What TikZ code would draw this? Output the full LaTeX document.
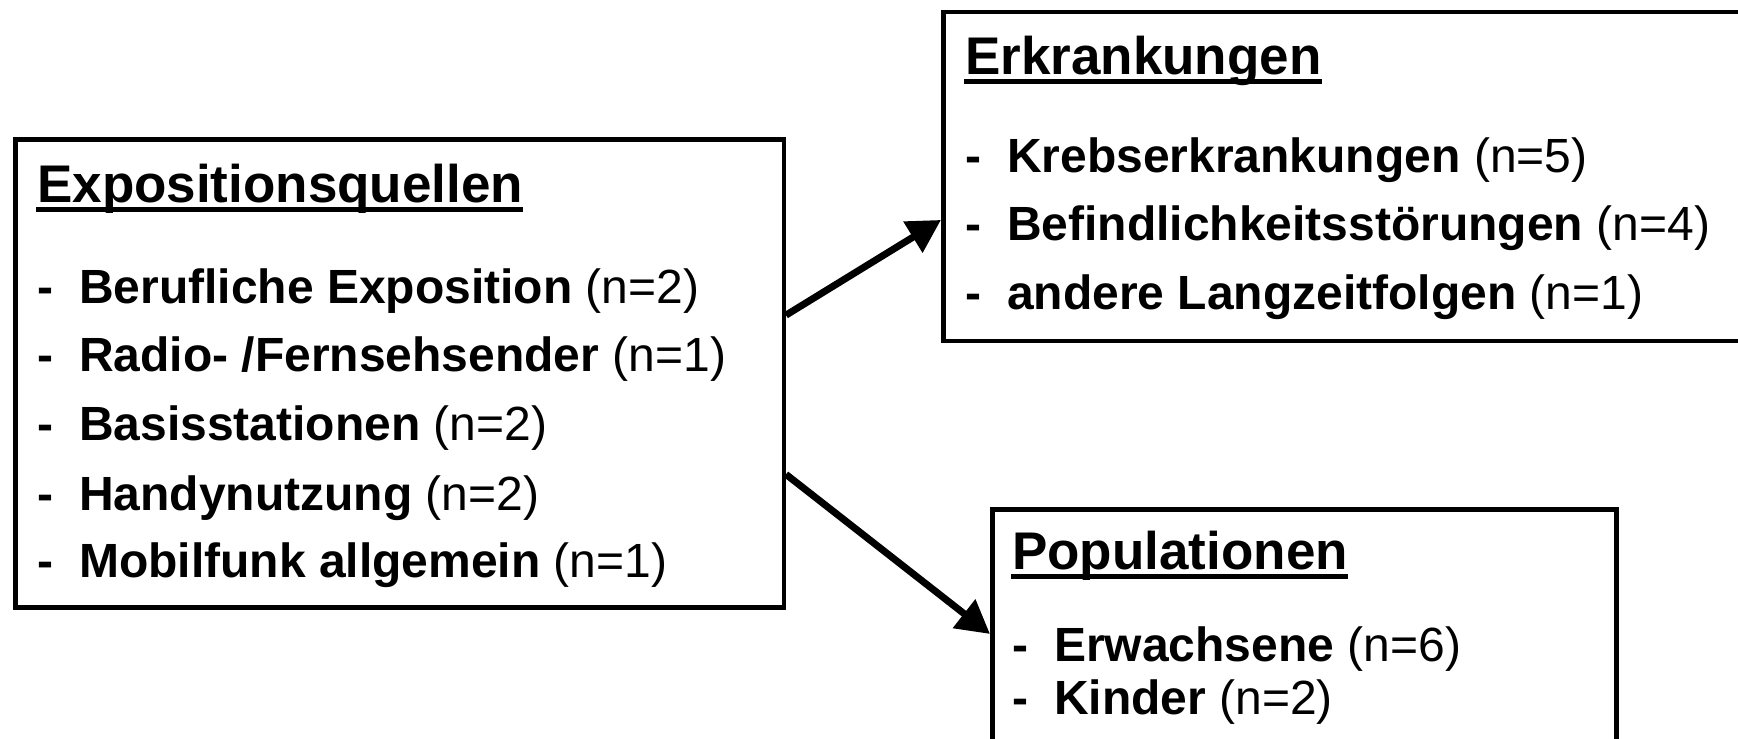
\documentclass[tikz,border=0pt]{standalone}
\usepackage{fontspec}
\setmainfont{Liberation Sans}
\usetikzlibrary{arrows.meta,calc}
\begin{document}
\begin{tikzpicture}[x=1pt,y=-1pt,
  box/.style={draw, line width=4.5pt, inner sep=0pt, anchor=north west},
  ttl/.style={font=\fontsize{53}{60}\selectfont\bfseries, inner sep=0pt, anchor=base west},
  itm/.style={font=\fontsize{48}{56}\selectfont, inner sep=0pt, anchor=base west},
  uline/.style={line width=5pt},
  arr/.style={line width=7pt, -{Triangle[length=33pt,width=35pt]}}]
\useasboundingbox (0,0) rectangle (1738,739);
\clip (0,0) rectangle (1738,739);
\fill[white] (0,0) rectangle (1738,739);

% boxes
\node[box, minimum width=768.5pt, minimum height=468pt] (src) at (13,137) {};
\node[box, minimum width=820pt, minimum height=329pt] (dis) at (941,9.5) {};
\node[box, minimum width=624pt, minimum height=260pt] (pop) at (990,507) {};

% Expositionsquellen
\node[ttl] (t1) at (37,202) {Expositionsquellen};
\draw[uline] ($(t1.base west)+(-1,7.5)$) -- ($(t1.base east)+(0,7.5)$);
\node[itm] (d11) at (37,303) {\bfseries -};
\node[itm] (i11) at (79,303) {\textbf{Berufliche Exposition} (n=2)};
\node[itm] (d12) at (37,371) {\bfseries -};
\node[itm] (i12) at (79,371) {\textbf{Radio- /Fernsehsender} (n=1)};
\node[itm] (d13) at (37,440) {\bfseries -};
\node[itm] (i13) at (79,440) {\textbf{Basisstationen} (n=2)};
\node[itm] (d14) at (37,510) {\bfseries -};
\node[itm] (i14) at (79,510) {\textbf{Handynutzung} (n=2)};
\node[itm] (d15) at (37,577) {\bfseries -};
\node[itm] (i15) at (79,577) {\textbf{Mobilfunk allgemein} (n=1)};

% Erkrankungen
\node[ttl] (t2) at (965,74) {Erkrankungen};
\draw[uline] ($(t2.base west)+(-1,7.5)$) -- ($(t2.base east)+(0,7.5)$);
\node[itm] (d21) at (965,172) {\bfseries -};
\node[itm] (i21) at (1007,172) {\textbf{Krebserkrankungen} (n=5)};
\node[itm] (d22) at (965,240) {\bfseries -};
\node[itm] (i22) at (1007,240) {\textbf{Befindlichkeitsstörungen} (n=4)};
\node[itm] (d23) at (965,309) {\bfseries -};
\node[itm] (i23) at (1007,309) {\textbf{andere Langzeitfolgen} (n=1)};

% Populationen
\node[ttl] (t3) at (1012,569) {Populationen};
\draw[uline] ($(t3.base west)+(-1,7.5)$) -- ($(t3.base east)+(0,7.5)$);
\node[itm] (d31) at (1012,661) {\bfseries -};
\node[itm] (i31) at (1054,661) {\textbf{Erwachsene} (n=6)};
\node[itm] (d32) at (1012,714) {\bfseries -};
\node[itm] (i32) at (1054,714) {\textbf{Kinder} (n=2)};

% arrows
\draw[arr] ($(src.north east)!0.377!(src.south east)$) -- ($(dis.north west)!0.631!(dis.south west)$);
\draw[arr] ($(src.north east)!0.714!(src.south east)$) -- ($(pop.north west)!0.48!(pop.south west)$);
\end{tikzpicture}
\end{document}
